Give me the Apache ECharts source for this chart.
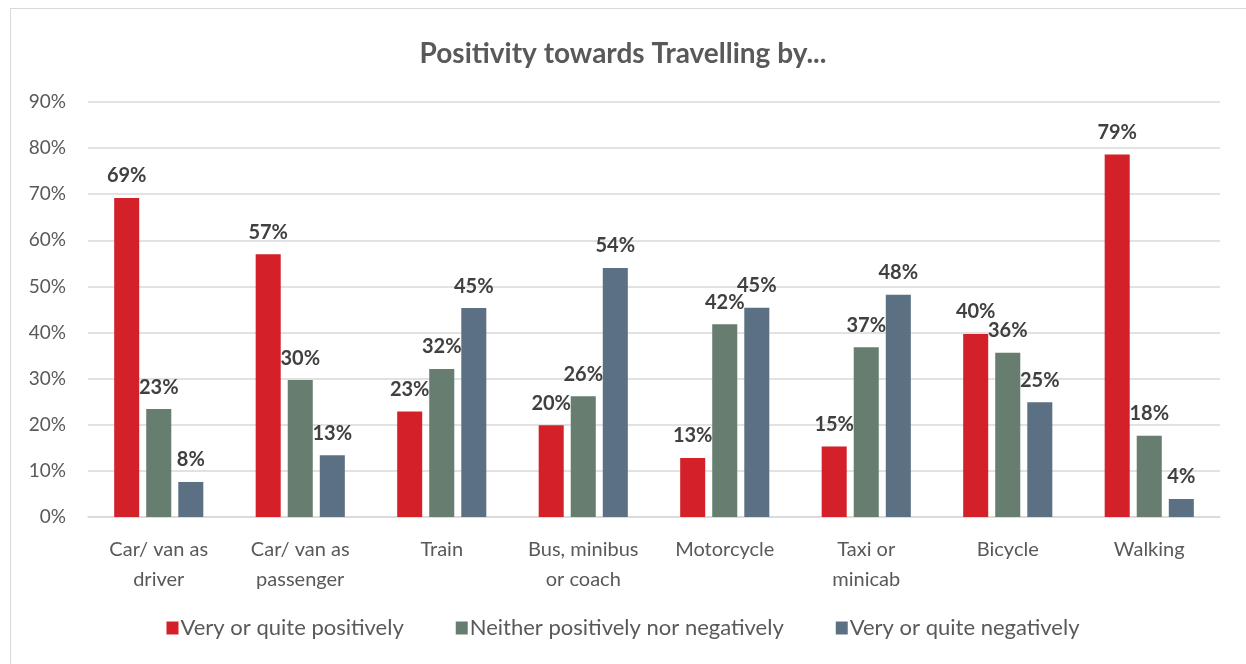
<!DOCTYPE html>
<html>
<head>
<meta charset="utf-8">
<script src="https://cdn.jsdelivr.net/npm/echarts@6/dist/echarts.min.js"></script>
<style>
html,body{margin:0;padding:0;background:#fff;}
#frame{position:absolute;left:10px;top:8px;width:1240px;height:664px;border:1px solid #d9d9d9;box-sizing:border-box;}
#chart{position:absolute;left:0;top:0;width:1246px;height:664px;}
</style>
</head>
<body>
<div id="frame"></div>
<div id="chart"></div>
<script>
const categories = ['Car/ van as\ndriver', 'Car/ van as\npassenger', 'Train', 'Bus, minibus\nor coach', 'Motorcycle', 'Taxi or\nminicab', 'Bicycle', 'Walking'];
const seriesNames = ['Very or quite positively', 'Neither positively nor negatively', 'Very or quite negatively'];
const positive = [69.2, 57.0, 22.9, 19.9, 12.8, 15.3, 39.7, 78.6];
const neither = [23.4, 29.7, 32.1, 26.2, 41.8, 36.8, 35.6, 17.6];
const negative = [7.6, 13.4, 45.3, 54.0, 45.4, 48.2, 24.9, 3.9];
const yTicks = [0, 10, 20, 30, 40, 50, 60, 70, 80, 90];
const colors = ['#D42129', '#667D6F', '#5B7183'];

const font = 'Lato, "Open Sans", sans-serif';
const chart = echarts.init(document.getElementById('chart'), null, {renderer: 'canvas'});
const mk = (name, data, color) => ({
  name: name,
  type: 'bar',
  data: data,
  barGap: '28%',
  barCategoryGap: '37%',
  itemStyle: {color: color},
  label: {
    show: true,
    position: 'top',
    distance: 12,
    formatter: p => Math.round(p.value) + '%',
    fontFamily: font,
    fontWeight: 'bold',
    fontSize: 20,
    color: '#404040'
  }
});
chart.setOption({
  animation: false,
  backgroundColor: 'transparent',
  title: {
    text: 'Positivity towards Travelling by...',
    left: 'center',
    top: 35,
    textStyle: {fontFamily: font, fontWeight: 'bold', fontSize: 28, color: '#595959'}
  },
  legend: {
    data: seriesNames,
    bottom: 20,
    left: 'center',
    itemWidth: 12,
    itemHeight: 13,
    itemGap: 52,
    icon: 'rect',
    textStyle: {fontFamily: font, fontSize: 22, color: '#595959', padding: [0, 0, 0, -3]}
  },
  grid: {left: 88, right: 26, top: 102, bottom: 147},
  xAxis: {
    type: 'category',
    data: categories,
    axisTick: {show: false},
    axisLine: {lineStyle: {color: '#d9d9d9', width: 1.5}},
    axisLabel: {interval: 0, hideOverlap: false, fontFamily: font, fontSize: 20, color: '#595959', lineHeight: 30, margin: 18}
  },
  yAxis: {
    type: 'value',
    min: yTicks[0],
    max: yTicks[yTicks.length - 1],
    interval: 10,
    axisLine: {show: false},
    axisTick: {show: false},
    splitLine: {lineStyle: {color: '#d9d9d9', width: 1.5}},
    axisLabel: {fontFamily: font, fontSize: 19, color: '#595959', margin: 22, formatter: v => v + '%'}
  },
  series: [
    mk(seriesNames[0], positive, colors[0]),
    mk(seriesNames[1], neither, colors[1]),
    mk(seriesNames[2], negative, colors[2])
  ]
});
</script>
</body>
</html>
